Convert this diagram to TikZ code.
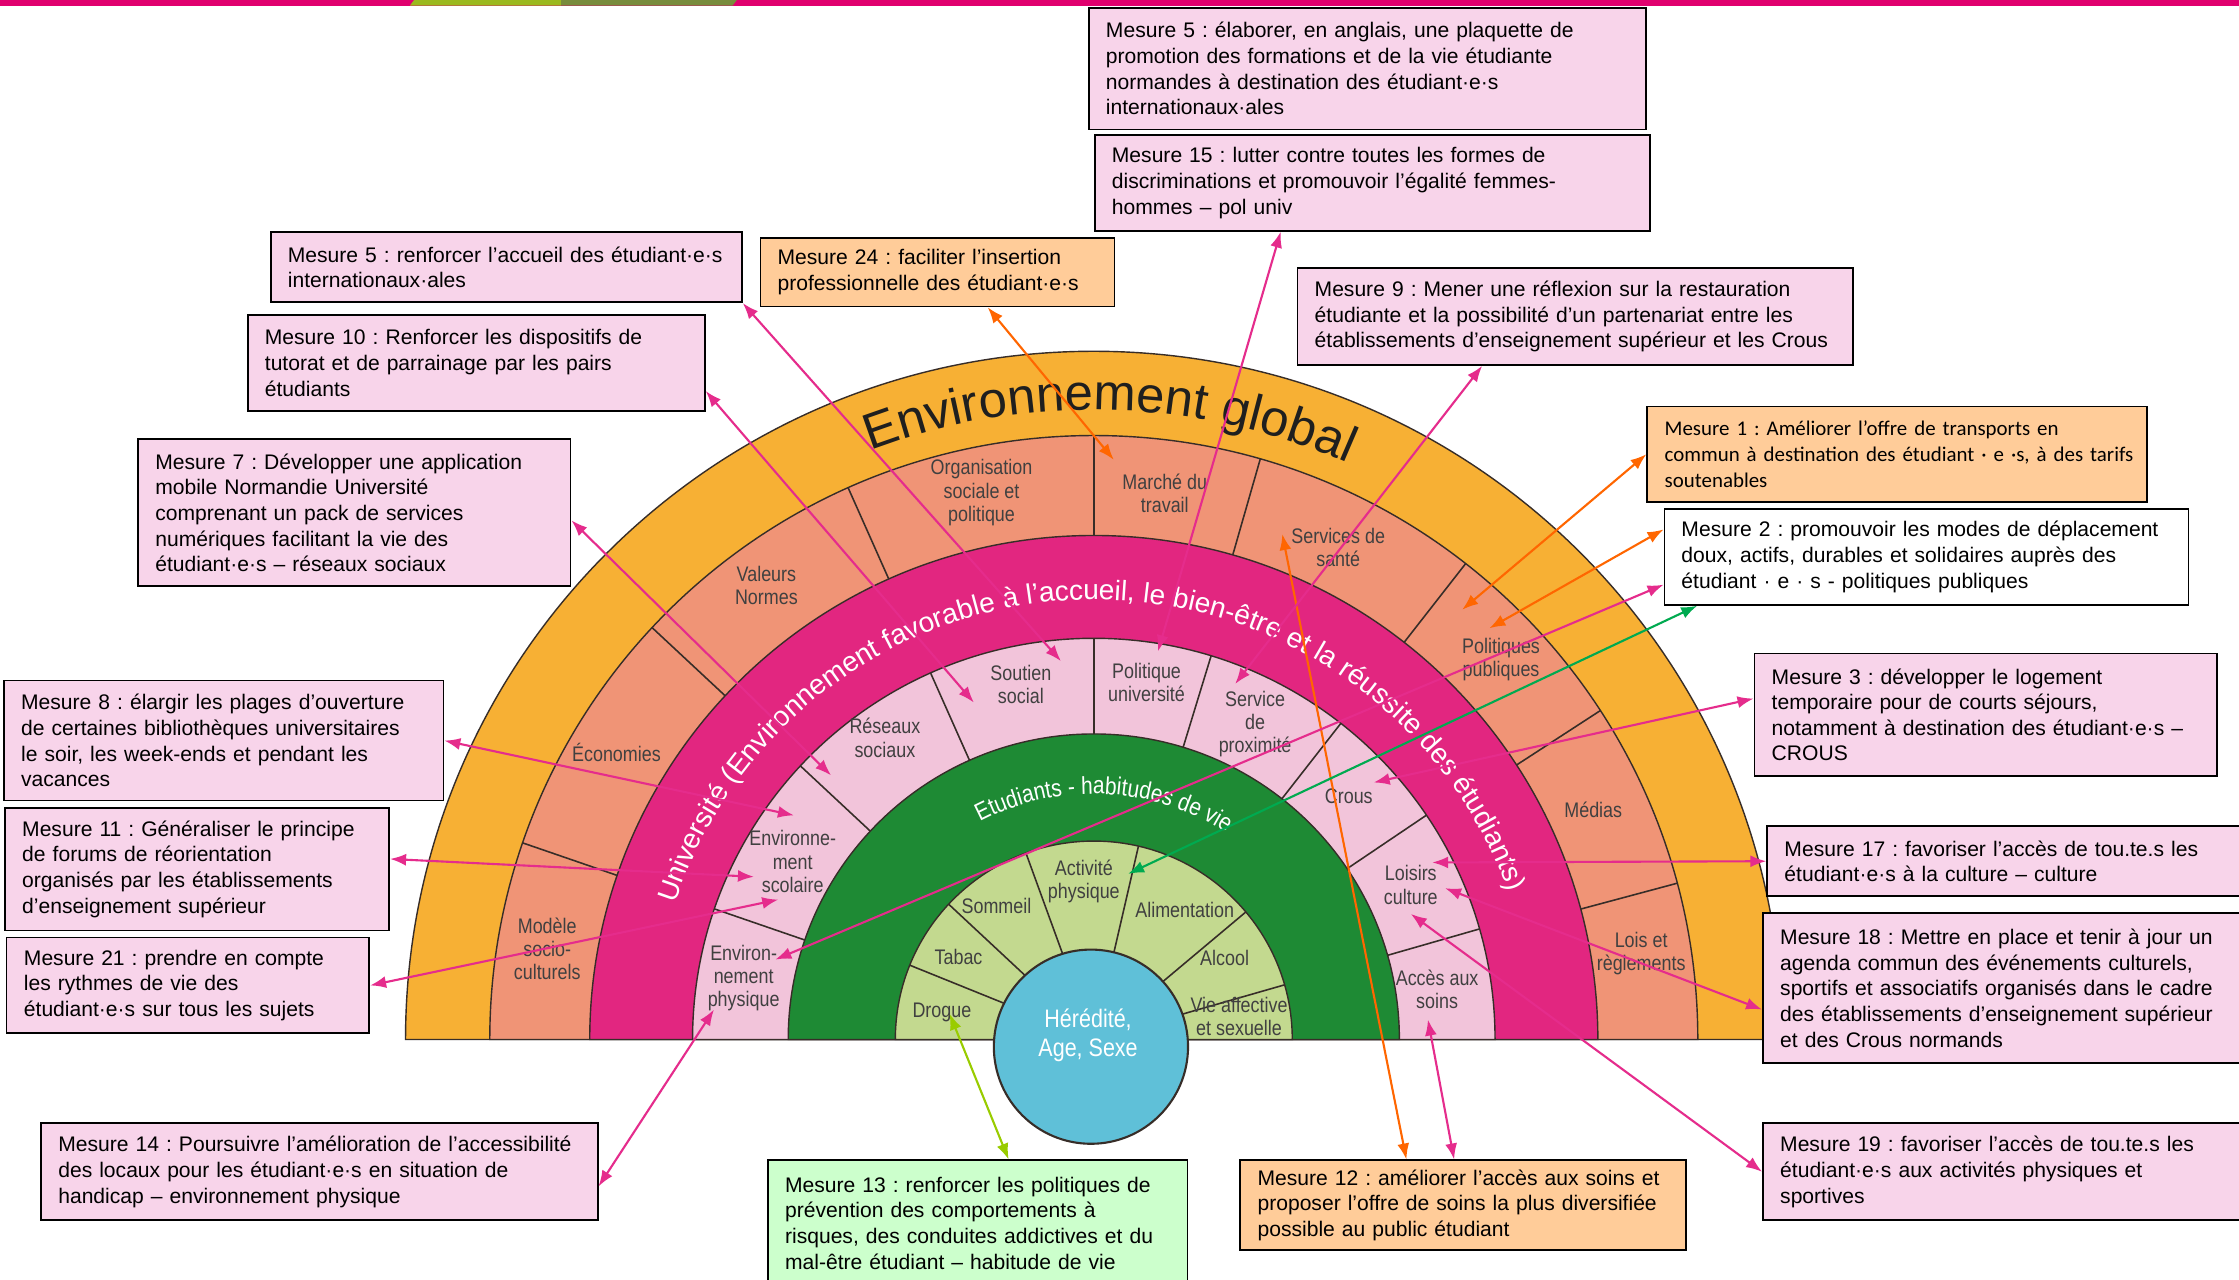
\documentclass[tikz,border=0pt]{standalone}
\usepackage{fontspec}
\setmainfont{Liberation Sans}
\newfontfamily\calfont{Carlito}
\newfontfamily\narfont[FakeStretch=0.85]{Liberation Sans}
\frenchspacing
\usetikzlibrary{arrows.meta}
\usetikzlibrary{decorations.text}
\definecolor{ringor}{RGB}{247,176,52}
\definecolor{ringsal}{RGB}{240,148,118}
\definecolor{ringmag}{RGB}{226,38,128}
\definecolor{ringpink}{RGB}{242,196,218}
\definecolor{ringgreen}{RGB}{30,138,52}
\definecolor{ringlgreen}{RGB}{195,217,143}
\definecolor{ringblue}{RGB}{95,192,216}
\definecolor{ringline}{RGB}{55,45,40}
\definecolor{lblgray}{RGB}{64,64,64}
\definecolor{boxpink}{RGB}{248,212,234}
\definecolor{boxorange}{RGB}{255,204,153}
\definecolor{boxgreen}{RGB}{204,255,204}
\definecolor{arrmag}{RGB}{229,44,140}
\definecolor{arror}{RGB}{255,102,0}
\definecolor{arrgreen}{RGB}{0,170,80}
\definecolor{arrlime}{RGB}{153,204,0}
\definecolor{barmag}{RGB}{224,0,110}
\definecolor{barlime}{RGB}{155,185,30}
\definecolor{barolive}{RGB}{120,140,60}
\tikzset{
    mesure/.style = {rectangle, draw=black, line width=0.5pt, fill=boxpink, anchor=north west, align=left, inner xsep=0.17cm, inner ysep=0pt, font=\fontsize{6.0}{7.3}\selectfont},
    mesureo/.style = {mesure, fill=boxorange},
    mesureg/.style = {mesure, fill=boxgreen},
    mesurew/.style = {mesure, fill=white},
    lbl/.style = {align=center, inner sep=0pt, text=lblgray, font=\narfont\fontsize{6}{6.6}\selectfont},
    ring/.style = {draw=ringline, line width=0.4pt},
    divline/.style = {ringline, line width=0.45pt},
    edgem/.style = {{Latex[length=1.6mm,width=1.2mm]}-{Latex[length=1.6mm,width=1.2mm]}, line width=0.6pt, arrmag},
    edgeo/.style = {edgem, arror},
    edgeg/.style = {edgem, arrgreen},
    edgel/.style = {edgem, arrlime}
}
\begin{document}
\begin{tikzpicture}[x=0.01428cm, y=0.01428cm]
\useasboundingbox (0,0) rectangle (1568,896);
\clip (0,0) rectangle (1568,896);
\fill[white] (0,0) rectangle (1568,896);
%
\fill[barmag] (0,892) rectangle (1568,896);
\fill[barlime] (287,892) -- (290,896) -- (393,896) -- (393,892) -- cycle;
\fill[barolive] (393,892) -- (393,896) -- (516,896) -- (513,892) -- cycle;
%
\begin{scope}[shift={(766,168)}]
\filldraw[ring, fill=ringor] (0:482) arc[start angle=0, end angle=180, radius=482] -- cycle;
\filldraw[ring, fill=ringsal] (0:423) arc[start angle=0, end angle=180, radius=423] -- cycle;
\filldraw[ring, fill=ringmag] (0:353) arc[start angle=0, end angle=180, radius=353] -- cycle;
\filldraw[ring, fill=ringpink] (0:281) arc[start angle=0, end angle=180, radius=281] -- cycle;
\filldraw[ring, fill=ringgreen] (0:214) arc[start angle=0, end angle=180, radius=214] -- cycle;
\filldraw[ring, fill=ringlgreen] (0:139) arc[start angle=0, end angle=180, radius=139] -- cycle;
%
\foreach \a in {161,137,114,90,74,52,33,15} \draw[divline] (\a:353) -- (\a:423);
\foreach \a in {161,137,114,90,73,52,34,16} \draw[divline] (\a:214) -- (\a:281);
\foreach \a in {158,137,110,77,40,16} \draw[divline] (\a:60) -- (\a:139);
\filldraw[draw=ringline, line width=0.6pt, fill=ringblue] (-2,-5) circle[radius=68];
%
\path[decorate, decoration={text along path, text align=center, text color=black!88,
    text={|\fontsize{14.4}{16}\selectfont|Environnement global}}]
    (177:441) arc[start angle=177, end angle=0, radius=441];
\path[decorate, decoration={text along path, text align=center, text color=white,
    text={|\fontsize{8}{9}\selectfont|Université (Environnement favorable à l’accueil, le bien-être et la réussite des étudiants)}}]
    (180:308) arc[start angle=180, end angle=1.6, radius=308];
\path[decorate, decoration={text along path, text align=center, text color=white,
    text={|\narfont\fontsize{7}{8}\selectfont|Etudiants - habitudes de vie}}]
    (177:172) arc[start angle=177, end angle=-2, radius=172];
%
\foreach \a/\r/\t [count=\i] in {170.6/388/{Modèle\\socio-\\culturels}, 149/390/{Économies},
    125.8/392/{Valeurs\\Normes}, 101.6/391/{Organisation\\sociale et\\politique},
    82.6/386/{Marché du\\travail}, 63.6/385/{Services de\\santé},
    43/390/{Politiques\\publiques}, 24.7/385/{Médias}, 8.9/388/{Lois et\\règlements}}
    \node[lbl] (env\i) at (\a:\r) {\t};
\foreach \a/\r/\t [count=\i] in {170/249/{Environ-\\nement\\physique}, 149.4/245/{Environne-\\ment\\scolaire},
    124.7/257/{Réseaux\\sociaux}, 101.6/254/{Soutien\\social},
    81.6/253/{Politique\\université}, 62.9/248/{Service\\de\\proximité},
    43.7/247/{Crous}, 26/247/{Loisirs\\culture}, 8.3/243/{Accès aux\\soins}}
    \node[lbl] (univ\i) at (\a:\r) {\t};
\foreach \a/\r/\t [count=\i] in {170/108/{Drogue}, 148.6/111/{Tabac}, 126/116/{Sommeil},
    93.6/111/{Activité\\physique}, 55/111/{Alimentation}, 32/108/{Alcool},
    9/103/{Vie affective\\et sexuelle}}
    \node[lbl] (hab\i) at (\a:\r) {\t};
\node[lbl, text=white, font=\narfont\fontsize{7.2}{8.1}\selectfont] (hered) at (-4,3) {Hérédité,\\Age, Sexe};
\end{scope}
%
\node[mesure, minimum width=5.57cm, text width=5.23cm, minimum height=1.214cm] at (762,891) (m5a) {Mesure 5 : élaborer, en anglais, une plaquette de\\promotion des formations et de la vie étudiante\\normandes à destination des étudiant·e·s\\internationaux·ales};
\node[mesure, minimum width=5.555cm, text width=5.21cm, minimum height=0.957cm] at (766,802) (m15) {Mesure 15 : lutter contre toutes les formes de\\discriminations et promouvoir l’égalité femmes-\\hommes – pol univ};
\node[mesure, minimum width=4.712cm, text width=4.37cm, minimum height=0.70cm] at (189,734) (m5b) {Mesure 5 : renforcer l’accueil des étudiant·e·s\\internationaux·ales};
\node[mesureo, minimum width=3.541cm, text width=3.20cm, minimum height=0.685cm] at (532,730) (m24) {Mesure 24 : faciliter l’insertion\\professionnelle des étudiant·e·s};
\node[mesure, minimum width=4.57cm, text width=4.23cm, minimum height=0.957cm] at (173,676) (m10) {Mesure 10 : Renforcer les dispositifs de\\tutorat et de parrainage par les pairs\\étudiants};
\node[mesure, minimum width=5.555cm, text width=5.21cm, minimum height=0.971cm] at (908,709) (m9) {Mesure 9 : Mener une réflexion sur la restauration\\étudiante et la possibilité d’un partenariat entre les\\établissements d’enseignement supérieur et les Crous};
\node[mesureo, minimum width=4.998cm, text width=4.65cm, minimum height=0.957cm, font=\calfont\fontsize{5.95}{7.3}\selectfont] at (1153,612) (m1) {Mesure 1 : Améliorer l’offre de transports en\\\mbox{commun à destination des étudiant · e ·s, à des tarifs}\\soutenables};
\node[mesurew, minimum width=5.241cm, text width=4.90cm, minimum height=0.957cm] at (1165,540) (m2) {Mesure 2 : promouvoir les modes de déplacement\\doux, actifs, durables et solidaires auprès des\\étudiant · e · s - politiques publiques};
\node[mesure, minimum width=4.327cm, text width=3.98cm, minimum height=1.471cm] at (96,589) (m7) {Mesure 7 : Développer une application\\mobile Normandie Université\\comprenant un pack de services\\numériques facilitant la vie des\\étudiant·e·s – réseaux sociaux};
\node[mesure, minimum width=4.398cm, text width=4.05cm, minimum height=1.20cm] at (2,420) (m8) {Mesure 8 : élargir les plages d’ouverture\\de certaines bibliothèques universitaires\\le soir, les week-ends et pendant les\\vacances};
\node[mesure, minimum width=3.841cm, text width=3.50cm, minimum height=1.228cm] at (3,331) (m11) {Mesure 11 : Généraliser le principe\\de forums de réorientation\\organisés par les établissements\\d’enseignement supérieur};
\node[mesure, minimum width=3.627cm, text width=3.28cm, minimum height=0.957cm] at (4,240) (m21) {Mesure 21 : prendre en compte\\les rythmes de vie des\\étudiant·e·s sur tous les sujets};
\node[mesure, minimum width=5.569cm, text width=5.22cm, minimum height=0.971cm] at (28,110) (m14) {Mesure 14 : Poursuivre l’amélioration de l’accessibilité\\des locaux pour les étudiant·e·s en situation de\\handicap – environnement physique};
\node[mesureg, minimum width=4.198cm, text width=3.85cm, minimum height=1.257cm] at (537,84) (m13) {Mesure 13 : renforcer les politiques de\\prévention des comportements à\\risques, des conduites addictives et du\\mal-être étudiant – habitude de vie};
\node[mesureo, minimum width=4.455cm, text width=4.11cm, minimum height=0.90cm] at (868,84) (m12) {Mesure 12 : améliorer l’accès aux soins et\\proposer l’offre de soins la plus diversifiée\\possible au public étudiant};
\node[mesure, minimum width=4.627cm, text width=4.28cm, minimum height=1.228cm] at (1228,439) (m3) {Mesure 3 : développer le logement\\temporaire pour de courts séjours,\\notamment à destination des étudiant·e·s –\\CROUS};
\node[mesure, minimum width=4.855cm, text width=4.51cm, minimum height=0.70cm] at (1237,318) (m17) {Mesure 17 : favoriser l’accès de tou.te.s les\\étudiant·e·s à la culture – culture};
\node[mesure, minimum width=4.855cm, text width=4.51cm, minimum height=1.499cm] at (1234,257) (m18) {Mesure 18 : Mettre en place et tenir à jour un\\agenda commun des événements culturels,\\sportifs et associatifs organisés dans le cadre\\des établissements d’enseignement supérieur\\et des Crous normands};
\node[mesure, minimum width=4.855cm, text width=4.51cm, minimum height=0.971cm] at (1234,110) (m19) {Mesure 19 : favoriser l’accès de tou.te.s les\\étudiant·e·s aux activités physiques et\\sportives};
%
\coordinate (a24) at (780,574);
\coordinate (a5b) at (743,433);
\coordinate (a10) at (682,404);
\coordinate (a7) at (582,353);
\coordinate (a8) at (556,325);
\coordinate (a11) at (528,282);
\coordinate (a21) at (545,266);
\coordinate (a14) at (500,189);
\coordinate (a13) at (665,186);
\coordinate (a12o) at (898,522);
\coordinate (a12m) at (1000,182);
\coordinate (a15) at (811,440);
\coordinate (a9) at (865,417);
\coordinate (a1) at (1024,469);
\coordinate (a2o) at (1043,456);
\coordinate (a2m) at (543,224);
\coordinate (a2g) at (790,284);
\coordinate (a3) at (962,348);
\coordinate (a17) at (1003,292);
\coordinate (a18) at (1012,274);
\coordinate (a19) at (988,256);
%
\draw[edgeo] (m24.-35) -- (a24);
\draw[edgem] (m5b.south east) -- (a5b);
\draw[edgem] (m10.-7) -- (a10);
\draw[edgem] (m7.-2) -- (a7);
\draw[edgem] (m8.east) -- (a8);
\draw[edgem] (m11.3) -- (a11);
\draw[edgem] (m21.east) -- (a21);
\draw[edgem] (m14.-3) -- (a14);
\draw[edgel] (m13.64) -- (a13);
\draw[edgeo] (m12.141) -- (a12o);
\draw[edgem] (m12.101) -- (a12m);
\draw[edgem] (m15.-152) -- (a15);
\draw[edgem] (m9.-152) -- (a9);
\draw[edgeo] (m1.west) -- (a1);
\draw[edgeo] (m2.174) -- (a2o);
\draw[edgem] (m2.-174) -- (a2m);
\draw[edgeg] (m2.-168) -- (a2g);
\draw[edgem] (m3.176) -- (a3);
\draw[edgem] (m17.west) -- (a17);
\draw[edgem] (m18.-175) -- (a18);
\draw[edgem] (m19.west) -- (a19);
\end{tikzpicture}
\end{document}
